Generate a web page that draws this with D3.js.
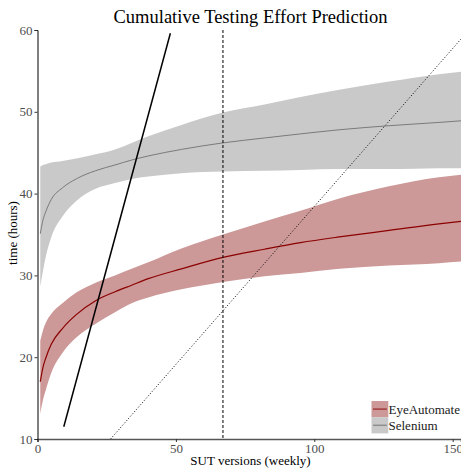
<!DOCTYPE html>
<html lang="en">
<head>
    <meta charset="UTF-8">
    <title>Cumulative Testing Effort Prediction</title>
    <script src="https://d3js.org/d3.v7.min.js"></script>
    <style>
        body { margin: 0; background: #fff; }
        text { font-family: "Liberation Serif", "Times New Roman", serif; }
    </style>
</head>
<body>
<div id="chart"></div>

<script>
    // values
    var versions       = [1, 2, 3, 5, 9, 14, 21, 28, 34, 40, 52, 67, 82, 95, 109, 127, 145, 153];
    var seleniumMean   = [35.1, 36.8, 37.8, 39.3, 40.7, 41.8, 42.8, 43.5, 44.1, 44.6, 45.4, 46.2, 46.8, 47.3, 47.8, 48.3, 48.7, 48.9];
    var seleniumUpper  = [43.3, 43.5, 43.6, 43.8, 44.0, 44.3, 44.8, 45.4, 46.2, 47.0, 48.4, 49.9, 50.9, 51.8, 52.7, 53.7, 54.6, 54.9];
    var seleniumLower  = [28.6, 30.6, 32.3, 34.7, 37.2, 39.1, 40.6, 41.3, 41.8, 42.1, 42.5, 42.7, 42.8, 42.9, 43.0, 43.0, 43.1, 43.1];
    var eyeMean        = [17.0, 18.8, 19.9, 21.6, 23.5, 25.2, 26.9, 28.0, 28.8, 29.6, 30.8, 32.2, 33.2, 34.0, 34.7, 35.5, 36.3, 36.6];
    var eyeUpper       = [22.0, 23.3, 24.2, 25.3, 26.6, 27.9, 29.1, 30.0, 30.8, 31.6, 33.3, 35.0, 36.6, 37.9, 39.4, 40.9, 42.0, 42.3];
    var eyeLower       = [13.1, 14.8, 16.0, 18.1, 20.5, 22.4, 24.1, 25.5, 26.6, 27.3, 28.3, 29.2, 29.9, 30.3, 30.8, 31.2, 31.5, 31.7];

    var solidLineX  = [9.5, 48];
    var solidLineY  = [11.5, 59.6];
    var dottedLineX = [26.4, 153];
    var dottedLineY = [10, 58.9];
    var cutoffVersion = 67;

    var xTicks = [0, 50, 100, 150];
    var yTicks = [10, 20, 30, 40, 50, 60];
    var legendLabels = ["EyeAutomate", "Selenium"];

    var W = 461, H = 469;
    var margin = {top: 30, right: 0, bottom: 30, left: 37.5};

    var svg = d3.select("#chart")
        .append("svg")
            .attr("width", W)
            .attr("height", H);

    var x = d3.scaleLinear().domain([0, 153]).range([margin.left, W - margin.right]);
    var y = d3.scaleLinear().domain([10, 60]).range([H - margin.bottom, margin.top]);

    svg.append("clipPath").attr("id", "plotClip")
        .append("rect")
            .attr("x", margin.left).attr("y", margin.top)
            .attr("width", W - margin.left - margin.right)
            .attr("height", H - margin.top - margin.bottom);

    var plot = svg.append("g").attr("clip-path", "url(#plotClip)");

    function rows(lo, hi, mid) {
        return versions.map(function(v, i) { return {x: v, lo: lo[i], hi: hi[i], mid: mid[i]}; });
    }
    var selenium = rows(seleniumLower, seleniumUpper, seleniumMean);
    var eye = rows(eyeLower, eyeUpper, eyeMean);

    var band = d3.area()
        .x(function(d) { return x(d.x); })
        .y0(function(d) { return y(d.lo); })
        .y1(function(d) { return y(d.hi); })
        .curve(d3.curveMonotoneX);

    var mean = d3.line()
        .x(function(d) { return x(d.x); })
        .y(function(d) { return y(d.mid); })
        .curve(d3.curveMonotoneX);

    // ribbons
    plot.append("path").datum(selenium).attr("d", band).attr("fill", "#c9c9c9");
    plot.append("path").datum(eye).attr("d", band).attr("fill", "#cc9898");

    // fitted lines
    plot.append("path").datum(selenium).attr("d", mean)
        .attr("fill", "none").attr("stroke", "#7a7a7a").attr("stroke-width", 1);
    plot.append("path").datum(eye).attr("d", mean)
        .attr("fill", "none").attr("stroke", "#8b0000").attr("stroke-width", 1.2);

    // reference lines
    var straight = d3.line()
        .x(function(d) { return x(d[0]); })
        .y(function(d) { return y(d[1]); });

    plot.append("path").datum(d3.zip(solidLineX, solidLineY)).attr("d", straight)
        .attr("fill", "none").attr("stroke", "#000").attr("stroke-width", 1.5);

    plot.append("path").datum(d3.zip(dottedLineX, dottedLineY)).attr("d", straight)
        .attr("fill", "none").attr("stroke", "#000").attr("stroke-width", 1)
        .attr("stroke-dasharray", "1,2");

    plot.append("line")
        .attr("x1", x(cutoffVersion)).attr("x2", x(cutoffVersion))
        .attr("y1", y(60)).attr("y2", y(10))
        .attr("stroke", "#000").attr("stroke-width", 1)
        .attr("stroke-dasharray", "3,2");

    // axes
    var xAxis = svg.append("g")
        .attr("transform", "translate(0," + y(10) + ")")
        .call(d3.axisBottom(x).tickValues(xTicks).tickSize(3).tickPadding(2));
    xAxis.select(".domain").attr("stroke", "#555").attr("stroke-width", 1.6);

    var yAxis = svg.append("g")
        .attr("transform", "translate(" + x(0) + ",0)")
        .call(d3.axisLeft(y).tickValues(yTicks).tickSize(3).tickPadding(2));
    yAxis.select(".domain").attr("stroke", "#000").attr("stroke-width", 1);

    svg.selectAll(".tick line").attr("stroke", "#333");
    svg.selectAll(".tick text")
        .style("font-family", "'Liberation Serif', serif")
        .style("font-size", "13px")
        .attr("fill", "#4d4d4d");

    // titles
    svg.append("text")
        .attr("x", 250.5).attr("y", 23)
        .attr("text-anchor", "middle")
        .style("font-size", "18.5px")
        .attr("fill", "#000")
        .text("Cumulative Testing Effort Prediction");

    svg.append("text")
        .attr("x", 250.5).attr("y", 465)
        .attr("text-anchor", "middle")
        .style("font-size", "13px")
        .attr("fill", "#000")
        .text("SUT versions (weekly)");

    svg.append("text")
        .attr("transform", "translate(17," + 233 + ") rotate(-90)")
        .attr("text-anchor", "middle")
        .style("font-size", "13px")
        .attr("fill", "#000")
        .text("time (hours)");

    // legend
    var legendFill = ["#cc9898", "#c9c9c9"];
    var legendLine = ["#a33a3a", "#8f8f8f"];
    var legend = svg.append("g").attr("transform", "translate(371.5,401)");
    var key = legend.selectAll("g").data(legendLabels).enter()
        .append("g")
            .attr("transform", function(d, i) { return "translate(0," + (i * 16.2) + ")"; });
    key.append("rect")
        .attr("width", 16.8).attr("height", 16.2)
        .attr("fill", function(d, i) { return legendFill[i]; });
    key.append("line")
        .attr("x1", 1.5).attr("x2", 15.3).attr("y1", 8.1).attr("y2", 8.1)
        .attr("stroke", function(d, i) { return legendLine[i]; })
        .attr("stroke-width", 1.5);
    key.append("text")
        .attr("x", 17).attr("y", 12.5)
        .style("font-size", "13px")
        .attr("fill", "#1a1a1a")
        .text(function(d) { return d; });
</script>
</body>
</html>
